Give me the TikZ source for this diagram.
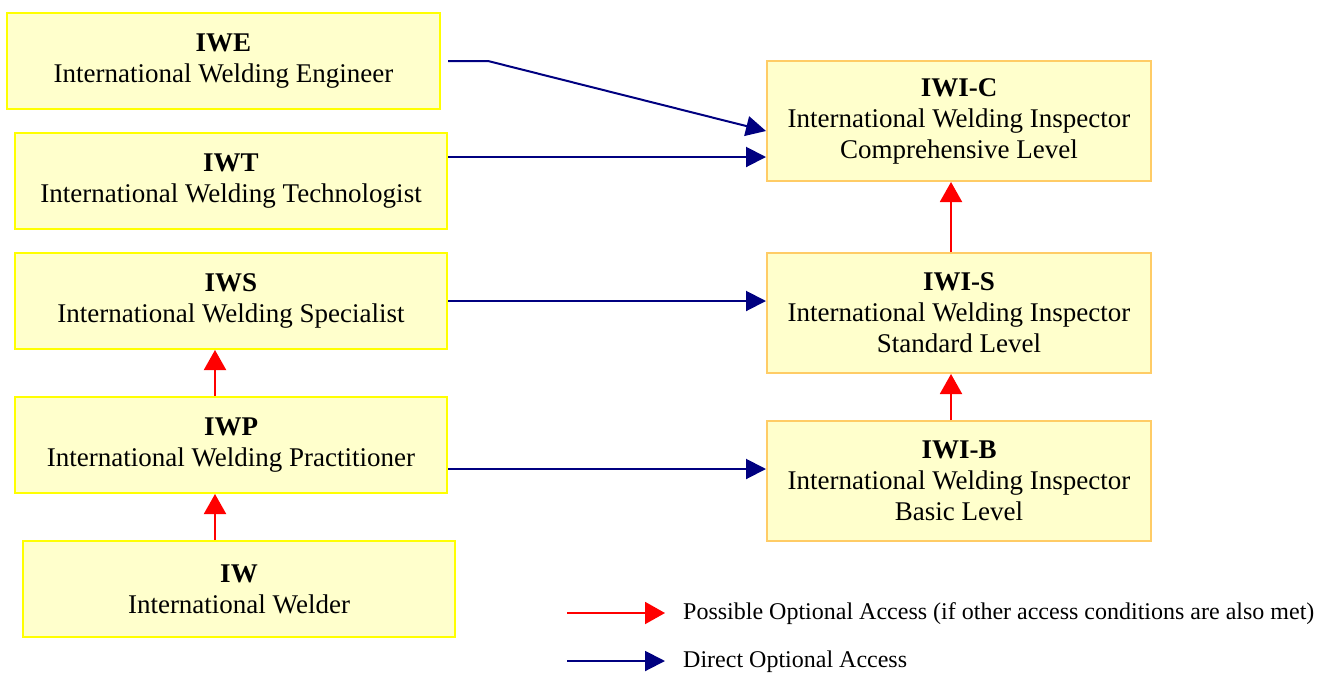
\documentclass[tikz,border=0pt]{standalone}
\usepackage{fontspec}
\setmainfont{Liberation Serif}
\usetikzlibrary{arrows.meta}
\definecolor{boxfill}{HTML}{FFFFCC}
\definecolor{leftborder}{HTML}{FFFF00}
\definecolor{rightborder}{HTML}{FFCC66}
\definecolor{navyline}{HTML}{000080}
\definecolor{redline}{HTML}{FF0000}
\tikzset{
  box/.style={draw, fill=boxfill, line width=2pt, align=center, inner sep=0pt,
    font=\fontsize{27}{31}\selectfont},
  lbox/.style={box, draw=leftborder, minimum width=432pt, minimum height=96pt},
  rbox/.style={box, draw=rightborder, minimum width=384pt, minimum height=120pt},
  direct/.style={draw=navyline, line width=2pt, -{Triangle[length=20pt,width=20pt]}},
  possible/.style={draw=redline, line width=2pt, -{Triangle[length=20pt,width=22pt]}},
  legtext/.style={anchor=west, inner sep=0pt, font=\fontsize{24}{28}\selectfont}
}
\begin{document}
\begin{tikzpicture}[x=1pt,y=-1pt]
\useasboundingbox (0,0) rectangle (1330,673);
\node[lbox, minimum width=433pt] (IWE) at (223.5,61) {\textbf{IWE}\\International Welding Engineer};
\node[lbox] (IWT) at (231,181) {\textbf{IWT}\\International Welding Technologist};
\node[lbox] (IWS) at (231,301) {\textbf{IWS}\\International Welding Specialist};
\node[lbox] (IWP) at (231,445) {\textbf{IWP}\\International Welding Practitioner};
\node[lbox] (IW) at (239,589) {\textbf{IW}\\International Welder};
\node[rbox] (IWIC) at (959,121) {\textbf{IWI-C}\\International Welding Inspector\\Comprehensive Level};
\node[rbox] (IWIS) at (959,313) {\textbf{IWI-S}\\International Welding Inspector\\Standard Level};
\node[rbox] (IWIB) at (959,481) {\textbf{IWI-B}\\International Welding Inspector\\Basic Level};
% direct access
\draw[direct] ([xshift=7pt]IWE.east) -- ++(40,0) -- ([yshift=-10pt]IWIC.west);
\draw[direct] ([yshift=24pt]IWT.east) -- ([yshift=24pt]IWT.east -| IWIC.west);
\draw[direct] (IWS.east) -- (IWS.east -| IWIS.west);
\draw[direct] ([yshift=-24pt]IWP.east) -- ([yshift=-24pt]IWP.east -| IWIB.west);
% possible access
\draw[possible] ([xshift=-16pt]IWP.north) -- ([xshift=-16pt]IWP.north |- IWS.south);
\draw[possible] ([xshift=-24pt]IW.north) -- ([xshift=-24pt]IW.north |- IWP.south);
\draw[possible] ([xshift=-8pt]IWIB.north) -- ([xshift=-8pt]IWIB.north |- IWIS.south);
\draw[possible] ([xshift=-8pt]IWIS.north) -- ([xshift=-8pt]IWIS.north |- IWIC.south);
% legend
\coordinate (l1a) at (567,613);
\coordinate (l1b) at (665,613);
\coordinate (l2a) at (567,661);
\coordinate (l2b) at (665,661);
\draw[possible] (l1a) -- (l1b);
\draw[direct] (l2a) -- (l2b);
\node[legtext] (t1) at (683,614) {Possible Optional Access (if other access conditions are also met)};
\node[legtext] (t2) at (683,662) {Direct Optional Access};
\end{tikzpicture}
\end{document}
